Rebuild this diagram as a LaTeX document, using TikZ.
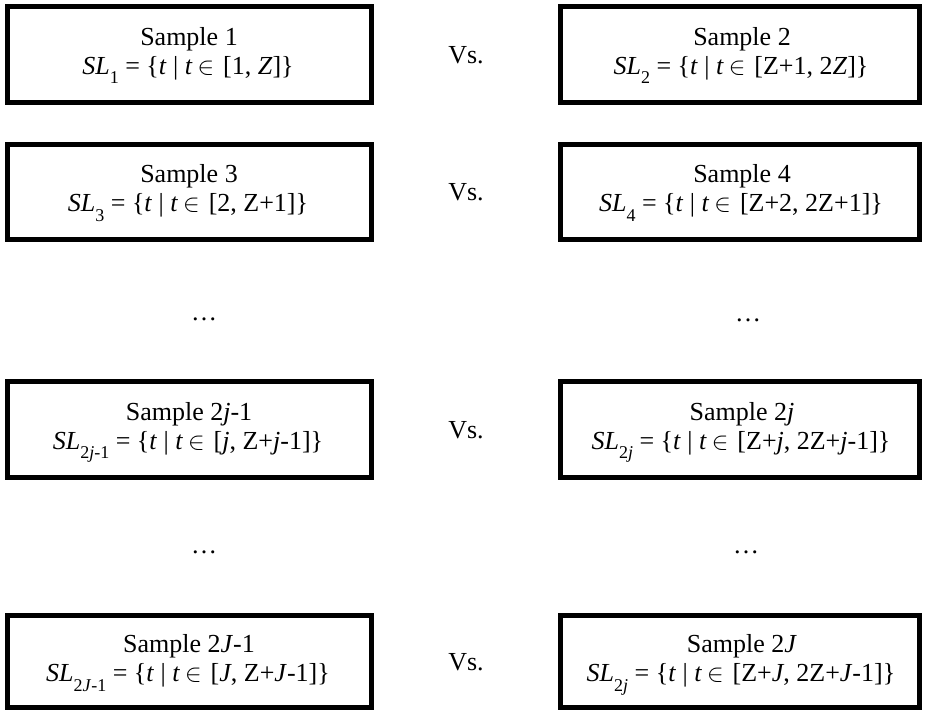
\documentclass[tikz,border=0pt]{standalone}
\usepackage{fontspec}
\setmainfont{Liberation Serif}
\newcommand{\sbx}[1]{\raisebox{-9.5pt}{\fontsize{18}{18}\selectfont #1}}
\newcommand{\myin}{\hspace{5pt}$\in$\hspace{9pt}}
\newcommand{\setof}[1]{\{\textit{t} | \textit{t}\myin[#1]\}}
\begin{document}
\begin{tikzpicture}[x=1pt,y=-1pt,
  boxbase/.style={draw=black, line width=5pt, inner sep=0pt, outer sep=0pt},
  lbox/.style={boxbase, minimum width=364pt},
  rbox/.style={boxbase, minimum width=359pt},
  txt/.style={anchor=base, inner sep=0pt, font=\fontsize{26}{30}\selectfont},
  vslabel/.style={txt},
  dots/.style={anchor=center, inner sep=0pt, font=\fontsize{26}{30}\selectfont}]
\useasboundingbox (0,0) rectangle (925,710);
% row 1
\node[lbox, minimum height=96pt] (b1) at (189.5,54.5) {};
\node[rbox, minimum height=96pt] (b2) at (740,54.5) {};
\node[txt] (b1t) at (189,45) {Sample 1};
\node[txt] (b1f) at (188,74) {\textit{SL}\sbx{1} = \setof{1, \textit{Z}}};
\node[txt] (b2t) at (742,45) {Sample 2};
\node[txt] (b2f) at (741,74) {\textit{SL}\sbx{2} = \setof{Z+1, 2\textit{Z}}};
\node[vslabel] (v1) at (466,63) {Vs.};
% row 2
\node[lbox, minimum height=95pt] (b3) at (189.5,192) {};
\node[rbox, minimum height=95pt] (b4) at (740,192) {};
\node[txt] (b3t) at (189,182.5) {Sample 3};
\node[txt] (b3f) at (188,211.5) {\textit{SL}\sbx{3} = \setof{2, Z+1}};
\node[txt] (b4t) at (742,182.5) {Sample 4};
\node[txt] (b4f) at (741,211.5) {\textit{SL}\sbx{4} = \setof{Z+2, 2Z+1}};
\node[vslabel] (v2) at (466,200.5) {Vs.};
% dots
\node[dots] (d1) at (204,319) {…};
\node[dots] (d2) at (748,320) {…};
% row 3
\node[lbox, minimum height=96pt] (b5) at (189.5,429.5) {};
\node[rbox, minimum height=96pt] (b6) at (740,429.5) {};
\node[txt] (b5t) at (189,420) {Sample 2\textit{j}-1};
\node[txt] (b5f) at (188,449) {\textit{SL}\sbx{2\textit{j}-1} = \setof{\textit{j}, Z+\textit{j}-1}};
\node[txt] (b6t) at (742,420) {Sample 2\textit{j}};
\node[txt] (b6f) at (741,449) {\textit{SL}\sbx{2\textit{j}} = \setof{Z+\textit{j}, 2Z+\textit{j}-1}};
\node[vslabel] (v3) at (466,438.5) {Vs.};
% dots
\node[dots] (d3) at (204,552) {…};
\node[dots] (d4) at (746,552) {…};
% row 4
\node[lbox, minimum height=92pt] (b7) at (189.5,661.5) {};
\node[rbox, minimum height=92pt] (b8) at (740,661.5) {};
\node[txt] (b7t) at (189,652) {Sample 2\textit{J}-1};
\node[txt] (b7f) at (188,681.5) {\textit{SL}\sbx{2\textit{J}-1} = \setof{\textit{J}, Z+\textit{J}-1}};
\node[txt] (b8t) at (742,652) {Sample 2\textit{J}};
\node[txt] (b8f) at (741,681.5) {\textit{SL}\sbx{2\textit{j}} = \setof{Z+\textit{J}, 2Z+\textit{J}-1}};
\node[vslabel] (v4) at (466,670.5) {Vs.};
\end{tikzpicture}
\end{document}
